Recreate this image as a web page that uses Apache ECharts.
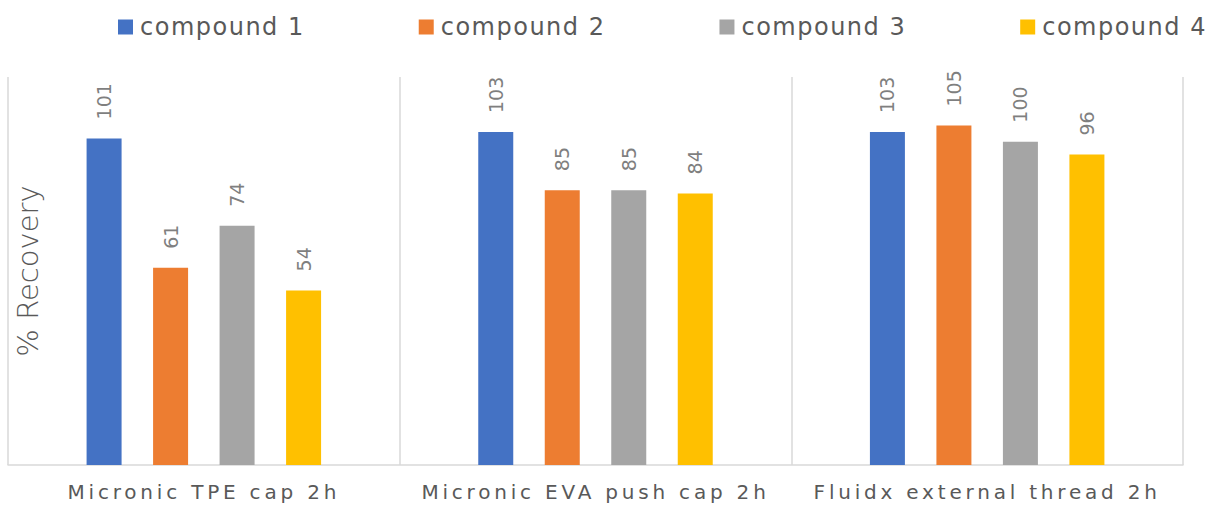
<!DOCTYPE html>
<html>
<head>
<meta charset="utf-8">
<script src="https://cdn.jsdelivr.net/npm/echarts@6/dist/echarts.min.js"></script>
<style>
  html, body { margin: 0; padding: 0; background: #ffffff; }
  #chart { width: 1206px; height: 505px; }
</style>
</head>
<body>
<div id="chart"></div>
<script>
// Recovery per closure type, one bar per compound
const categories = ['Micronic TPE cap 2h', 'Micronic EVA push cap 2h', 'Fluidx external thread 2h'];
const seriesNames = ['compound 1', 'compound 2', 'compound 3', 'compound 4'];
const compound1 = [101, 103, 103];
const compound2 = [61, 85, 105];
const compound3 = [74, 85, 100];
const compound4 = [54, 84, 96];
const yTitle = '% Recovery';
const yMax = 120;

const seriesColors = ['#4472C4', '#ED7D31', '#A5A5A5', '#FFC000'];
const FONT = '"DejaVu Sans", Verdana, sans-serif';

// extra tracking per font size (px), applied to the rendered SVG text
const trackingBySize = { 24: 1.5, 20: 3.8 };

const valueSets = [compound1, compound2, compound3, compound4];

const series = valueSets.map((vals, i) => ({
  name: seriesNames[i],
  type: 'bar',
  data: vals,
  barWidth: 35,
  barGap: '90%',
  itemStyle: { color: seriesColors[i] },
  label: {
    show: true,
    position: 'top',
    distance: 19,
    rotate: 90,
    align: 'left',
    verticalAlign: 'middle',
    color: '#7f7f7f',
    fontFamily: FONT,
    fontSize: 19
  }
}));

const chart = echarts.init(document.getElementById('chart'), null, { renderer: 'svg' });

chart.setOption({
  animation: false,
  backgroundColor: '#ffffff',
  legend: {
    data: seriesNames,
    left: 118,
    top: 15,
    width: 1088,
    padding: 0,
    itemWidth: 15,
    itemHeight: 15,
    itemGap: 129,
    icon: 'rect',
    textStyle: { color: '#595959', fontFamily: FONT, fontSize: 24, padding: [0, 0, 0, 2] }
  },
  grid: { left: 8, right: 23, top: 77, bottom: 40, containLabel: false },
  xAxis: {
    type: 'category',
    data: categories,
    boundaryGap: true,
    axisLine: { show: true, lineStyle: { color: '#d9d9d9', width: 1.5 } },
    axisTick: { show: false },
    splitLine: { show: true, lineStyle: { color: '#d9d9d9', width: 1.5 } },
    axisLabel: { color: '#595959', fontFamily: FONT, fontSize: 20, margin: 17, interval: 0 }
  },
  yAxis: {
    type: 'value',
    min: 0,
    max: yMax,
    name: yTitle,
    nameLocation: 'middle',
    nameGap: -34,
    nameTextStyle: { color: '#595959', fontFamily: FONT, fontSize: 29, fontWeight: 200 },
    axisLine: { show: false },
    axisTick: { show: false },
    axisLabel: { show: false },
    splitLine: { show: false }
  },
  series: series
});

function applyTracking() {
  document.querySelectorAll('#chart svg text').forEach(t => {
    const size = Math.round(parseFloat(getComputedStyle(t).fontSize));
    const ls = trackingBySize[size];
    if (ls) t.style.letterSpacing = ls + 'px';
  });
}
chart.on('finished', applyTracking);
applyTracking();
</script>
</body>
</html>
